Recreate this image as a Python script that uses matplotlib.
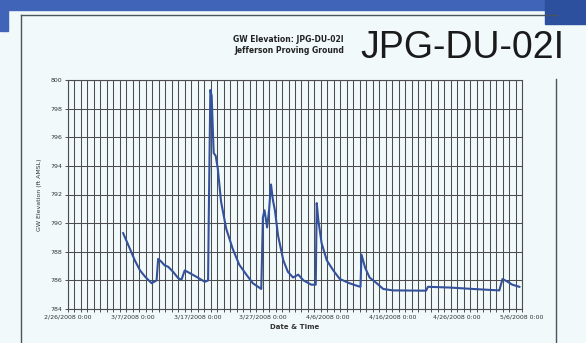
import numpy as np
import pandas as pd
import matplotlib
matplotlib.use("Agg")
import matplotlib.pyplot as plt
import matplotlib.dates as mdates
from matplotlib.patches import Rectangle
from matplotlib.lines import Line2D

# readings: days after 2/26/2008 0:00 and groundwater elevation (ft AMSL)
start = pd.Timestamp("2008-02-26 00:00")
days = [8.5, 9.55, 10.3, 11.1, 11.9, 12.9, 13.66, 13.9, 14.4, 14.9, 15.45, 16.2,
        17.0, 17.5, 18.0, 18.8, 19.8, 21.1, 21.6, 21.7, 21.95, 22.15, 22.46, 22.77,
        23.1, 23.6, 24.4, 25.4, 26.4, 27.5, 28.5, 29.8, 30.05, 30.3, 30.7, 31.0,
        31.3, 31.6, 31.9, 32.4, 33.2, 33.9, 34.7, 35.5, 36.3, 37.5, 38.2, 38.35,
        38.6, 39.1, 39.9, 40.9, 41.9, 43.4, 44.7, 45.1, 45.25, 45.8, 46.5, 47.6,
        48.6, 50.1, 55.2, 55.5, 58.8, 62.4, 66.5, 67.0, 67.8, 68.5, 69.6]
elev = [789.3, 788.2, 787.4, 786.7, 786.25, 785.8, 786.0, 787.5, 787.3, 787.05, 786.95, 786.6,
        786.15, 786.05, 786.7, 786.5, 786.25, 785.9, 786.0, 790.3, 799.3, 798.9, 794.9, 794.7,
        793.8, 791.5, 789.6, 788.2, 787.1, 786.4, 785.8, 785.4, 790.4, 790.9, 789.7, 790.9,
        792.7, 791.6, 790.9, 789.1, 787.4, 786.6, 786.2, 786.4, 786.0, 785.7, 785.7, 791.4,
        790.2, 788.6, 787.4, 786.7, 786.1, 785.8, 785.6, 785.55, 787.8, 786.9, 786.2, 785.8,
        785.4, 785.3, 785.28, 785.55, 785.5, 785.4, 785.3, 786.1, 785.9, 785.7, 785.55]

tick_labels = ["2/26/2008 0:00", "3/7/2008 0:00", "3/17/2008 0:00", "3/27/2008 0:00",
               "4/6/2008 0:00", "4/16/2008 0:00", "4/26/2008 0:00", "5/6/2008 0:00"]
y_ticks = [784, 786, 788, 790, 792, 794, 796, 798, 800]

times = start + pd.to_timedelta(days, unit="D")
tick_times = pd.to_datetime(tick_labels, format="%m/%d/%Y %H:%M")

bg = "#f1f9fb"
fig = plt.figure(figsize=(5.86, 3.43), dpi=100, facecolor=bg)

# slide decorations
fig.patches.append(Rectangle((0, 0.97), 1, 0.03, transform=fig.transFigure,
                             color="#3f64b8", zorder=0))
fig.patches.append(Rectangle((0.0, 0.91), 0.014, 0.09, transform=fig.transFigure,
                             color="#3f64b8", zorder=0))
fig.patches.append(Rectangle((0.93, 0.93), 0.07, 0.07, transform=fig.transFigure,
                             color="#2c4f9e", zorder=0))
fig.lines.append(Line2D([0.035, 0.95], [0.957, 0.957], transform=fig.transFigure,
                        color="#4a5560", lw=1.0))
fig.lines.append(Line2D([0.035, 0.035], [0.0, 0.957], transform=fig.transFigure,
                        color="#4a5560", lw=1.0))
fig.lines.append(Line2D([0.949, 0.949], [0.0, 0.77], transform=fig.transFigure,
                        color="#4a5560", lw=1.0))

ax = fig.add_axes([68 / 586, 1 - 309 / 343, (522 - 68) / 586, (309 - 80) / 343])
ax.set_facecolor(bg)
ax.plot(times, elev, color="#34519c", lw=1.5, zorder=3)

ax.set_xlim(tick_times[0], tick_times[-1])
ax.set_ylim(784, 800)
ax.set_yticks(y_ticks)
ax.set_yticklabels([str(v) for v in y_ticks], fontsize=4.5, color="#333333")
ax.set_xticks(tick_times)
ax.set_xticklabels(tick_labels, fontsize=4.5, color="#333333")
ax.xaxis.set_minor_locator(mdates.DayLocator())
ax.grid(True, which="both", axis="x", color="#4d4d4d", lw=0.75)
ax.grid(True, which="major", axis="y", color="#4d4d4d", lw=0.75)
ax.tick_params(which="both", length=2, width=0.6, pad=2, colors="#333333")
for s in ax.spines.values():
    s.set_color("#4d4d4d")
    s.set_linewidth(0.8)

ax.set_ylabel("GW Elevation (ft AMSL)", fontsize=4.5, color="#333333", labelpad=6)
ax.set_xlabel("Date & Time", fontsize=5, fontweight="bold", color="#333333", labelpad=3)

fig.text(344 / 586, 1 - 45 / 343, "GW Elevation: JPG-DU-02I\nJefferson Proving Ground",
         ha="right", va="center", fontsize=5.5, fontweight="bold", color="#222222",
         linespacing=1.3)
fig.text(360 / 586, 1 - 48 / 343, "JPG-DU-02I", ha="left", va="center",
         fontsize=27, color="#1a1a1a", family="Liberation Sans")

fig.savefig("out.png", dpi=100, facecolor=bg)
